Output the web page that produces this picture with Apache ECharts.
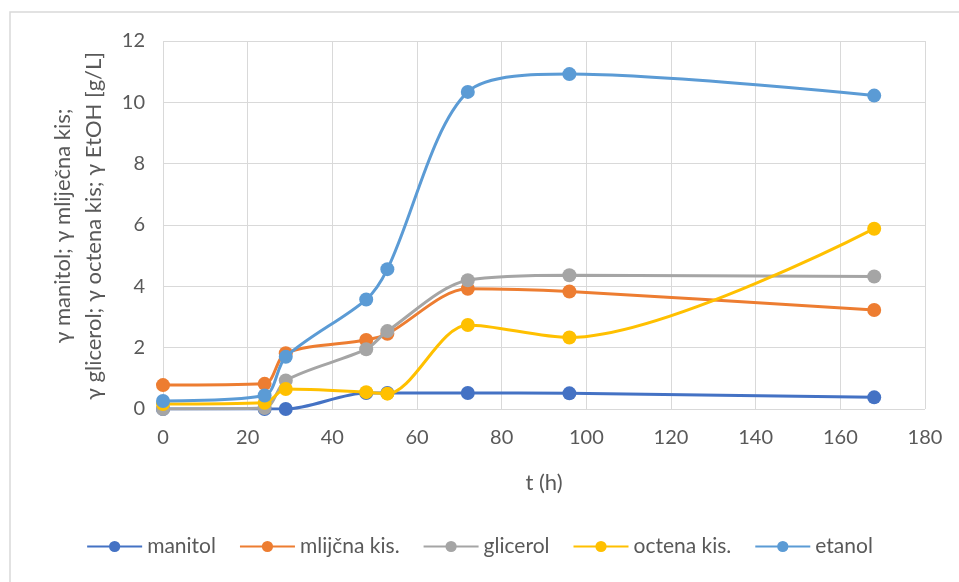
<!DOCTYPE html>
<html>
<head>
<meta charset="utf-8">
<script src="https://cdn.jsdelivr.net/npm/echarts@6/dist/echarts.min.js"></script>
<style>
html,body{margin:0;padding:0;background:#fff;}
#chart{width:959px;height:582px;}
</style>
</head>
<body>
<div id="chart"></div>
<script>
const times = [0, 24, 29, 48, 53, 72, 96, 168];
const manitol = [0, 0, 0, 0.52, 0.52, 0.52, 0.51, 0.38];
const mlijecna = [0.78, 0.82, 1.82, 2.25, 2.45, 3.92, 3.83, 3.23];
const glicerol = [0.0, 0.03, 0.93, 1.95, 2.54, 4.2, 4.36, 4.32];
const octena = [0.16, 0.2, 0.65, 0.55, 0.5, 2.74, 2.33, 5.88];
const etanol = [0.26, 0.44, 1.7, 3.57, 4.56, 10.34, 10.92, 10.22];
const seriesNames = ['manitol', 'mlijčna kis.', 'glicerol', 'octena kis.', 'etanol'];
const seriesColors = ['#4472C4', '#ED7D31', '#A5A5A5', '#FFC000', '#5B9BD5'];
const xTicks = {min: 0, max: 180, interval: 20};
const yTicks = {min: 0, max: 12, interval: 2};

const allData = [manitol, mlijecna, glicerol, octena, etanol];
const FONT = 'Lato, "Open Sans", sans-serif';
const chart = echarts.init(document.getElementById('chart'));
chart.setOption({
  backgroundColor: '#fff',
  animation: false,
  textStyle: {fontFamily: FONT},
  grid: {left: 163, right: 34, top: 41, bottom: 173},
  xAxis: {
    type: 'value', min: xTicks.min, max: xTicks.max, interval: xTicks.interval,
    name: 't (h)', nameLocation: 'middle', nameGap: 63,
    nameTextStyle: {color: '#595959', fontSize: 22, fontFamily: FONT},
    axisLine: {show: false}, axisTick: {show: false},
    axisLabel: {color: '#595959', fontSize: 20, margin: 19, fontFamily: FONT},
    splitLine: {show: true, lineStyle: {color: '#d9d9d9', width: 1}}
  },
  yAxis: {
    type: 'value', min: yTicks.min, max: yTicks.max, interval: yTicks.interval,
    axisLine: {show: false}, axisTick: {show: false},
    axisLabel: {color: '#595959', fontSize: 20, margin: 18, fontFamily: FONT},
    splitLine: {show: true, lineStyle: {color: '#d9d9d9', width: 1}}
  },
  legend: {
    bottom: 20, left: 'center',
    itemWidth: 55, itemHeight: 14, itemGap: 23,
    textStyle: {color: '#595959', fontSize: 21, fontFamily: FONT},
    data: seriesNames
  },
  graphic: [
    {type: 'rect', shape: {x: 10, y: 12, width: 1000, height: 700},
     style: {fill: 'none', stroke: '#d9d9d9', lineWidth: 1.5}, silent: true, z: -1},
    {type: 'text', x: 78, y: 226, rotation: Math.PI / 2,
     style: {text: 'γ manitol; γ mliječna kis;\nγ glicerol; γ octena kis; γ EtOH [g/L]',
             fill: '#595959', fontSize: 22, fontFamily: FONT, align: 'center',
             verticalAlign: 'middle', lineHeight: 31}}
  ],
  series: allData.map((d, i) => ({
    name: seriesNames[i], type: 'line', smooth: 0.3,
    data: times.map((t, j) => [t, d[j]]),
    symbol: 'circle', symbolSize: 14,
    lineStyle: {color: seriesColors[i], width: 3},
    itemStyle: {color: seriesColors[i]},
    z: 2 + i
  }))
});
</script>
</body>
</html>
